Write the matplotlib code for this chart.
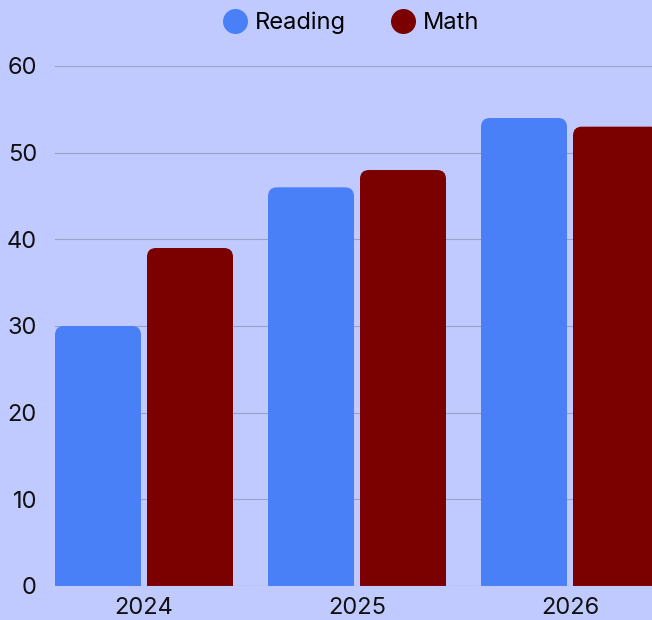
import matplotlib
matplotlib.use("Agg")
import matplotlib.pyplot as plt
from matplotlib.patches import FancyBboxPatch
from matplotlib.lines import Line2D
import numpy as np

# data
years = ["2024", "2025", "2026"]
reading = [30, 46, 54]
math_scores = [39, 48, 53]
series_names = ["Reading", "Math"]
y_ticks = [0, 10, 20, 30, 40, 50, 60]

# style
bg = "#c0caff"
colors = ["#4a80f7", "#7b0000"]
grid_color = "#9ca2c4"

plt.rcParams["font.family"] = ["Inter", "DejaVu Sans"]

fig = plt.figure(figsize=(6.52, 6.2), dpi=100, facecolor=bg)
ax = fig.add_axes([55 / 652, 34 / 620, 1 - 55 / 652, 520 / 620])
ax.set_facecolor(bg)

x = np.arange(len(years))
bar_w = 86 / 213
gap = 6 / 213
offsets = [-(bar_w + gap) / 2, (bar_w + gap) / 2]

ax.set_xlim(-89 / 213, 2 + 82 / 213)
ax.set_ylim(0, 60)

# px per data unit, for rounded corners
px_x = 213.0
px_y = 520 / 60.0
radius_px = 9.0

for vals, off, col in zip([reading, math_scores], offsets, colors):
    bars = ax.bar(x + off, vals, width=bar_w, color=col)
    for r in bars:
        r.set_visible(False)
        sink = 2.0  # push the bottom rounding below the axis so it gets clipped
        p = FancyBboxPatch(
            (r.get_x(), -sink), r.get_width(), r.get_height() + sink,
            boxstyle=f"round,pad=0,rounding_size={radius_px / px_x}",
            mutation_aspect=px_x / px_y,
            facecolor=col, edgecolor="none", zorder=3,
        )
        ax.add_patch(p)

ax.set_yticks(y_ticks)
ax.set_xticks(x)
ax.set_xticklabels(years)
ax.grid(axis="y", color=grid_color, linewidth=0.8, zorder=0)
ax.axhline(0, color=grid_color, linewidth=0.8, zorder=4)
ax.tick_params(axis="both", length=0, labelsize=17, colors="#111111")
ax.tick_params(axis="y", pad=13)
ax.tick_params(axis="x", pad=8)
for s in ax.spines.values():
    s.set_visible(False)

handles = [Line2D([], [], marker="o", linestyle="none", markersize=18,
                  markerfacecolor=c, markeredgecolor="none") for c in colors]
fig.legend(handles, series_names, loc="center",
           bbox_to_anchor=(351 / 652, 1 - 23 / 620), ncol=2, frameon=False,
           fontsize=17, handlelength=1.0, handletextpad=0.35, columnspacing=1.9)

fig.savefig("out.png", dpi=100, facecolor=bg)
